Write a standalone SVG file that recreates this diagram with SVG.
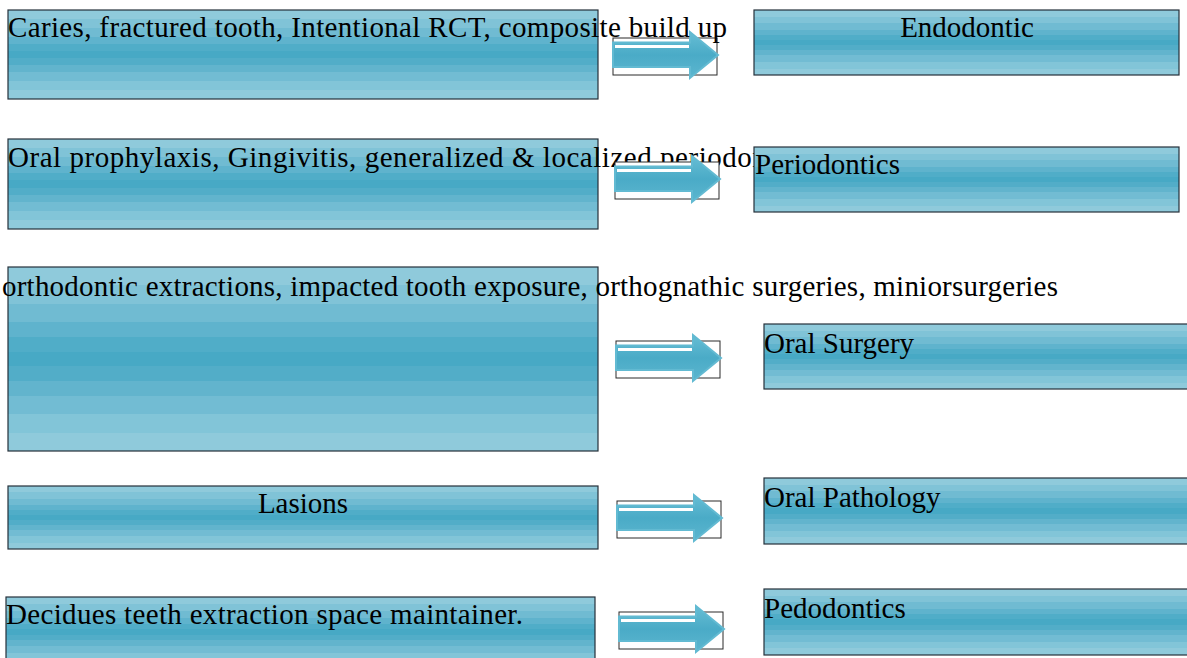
<svg xmlns="http://www.w3.org/2000/svg" width="1187" height="658" viewBox="0 0 1187 658">
  <defs>
    <!-- banded teal fill used by every box -->
    <linearGradient id="band" x1="0" y1="0" x2="0" y2="1">
      <stop offset="0" stop-color="#8fcadb"/>
      <stop offset="0.1" stop-color="#8fcadb"/>
      <stop offset="0.1" stop-color="#80c3d7"/>
      <stop offset="0.2" stop-color="#80c3d7"/>
      <stop offset="0.2" stop-color="#70bbd2"/>
      <stop offset="0.3" stop-color="#70bbd2"/>
      <stop offset="0.3" stop-color="#5fb3cd"/>
      <stop offset="0.38" stop-color="#5fb3cd"/>
      <stop offset="0.38" stop-color="#50adc8"/>
      <stop offset="0.46" stop-color="#50adc8"/>
      <stop offset="0.46" stop-color="#47a9c5"/>
      <stop offset="0.54" stop-color="#47a9c5"/>
      <stop offset="0.54" stop-color="#52adc8"/>
      <stop offset="0.62" stop-color="#52adc8"/>
      <stop offset="0.62" stop-color="#62b4cd"/>
      <stop offset="0.7" stop-color="#62b4cd"/>
      <stop offset="0.7" stop-color="#72bcd3"/>
      <stop offset="0.8" stop-color="#72bcd3"/>
      <stop offset="0.8" stop-color="#82c5d8"/>
      <stop offset="0.9" stop-color="#82c5d8"/>
      <stop offset="0.9" stop-color="#8fcadb"/>
      <stop offset="1" stop-color="#8fcadb"/>
    </linearGradient>
    <linearGradient id="arrowFill" x1="0" y1="0" x2="0" y2="1">
      <stop offset="0" stop-color="#66bdd4"/>
      <stop offset="0.5" stop-color="#4aabc7"/>
      <stop offset="1" stop-color="#5cb6cf"/>
    </linearGradient>
    <!-- block arrow inside its framed box -->
    <g id="blockArrow">
      <rect x="0" y="0" width="104" height="37" fill="#ffffff" stroke="#2a2a2a" stroke-width="1"/>
      <path d="M0,4.5 H77 V-6 L105,17 L77,40 V29 H0 Z" fill="url(#arrowFill)" stroke="#62bad2" stroke-width="2" stroke-linejoin="miter"/>
      <line x1="2" y1="8.5" x2="76" y2="8.5" stroke="#ffffff" stroke-width="3"/>
    </g>
  </defs>
  <style>
    .box { fill: url(#band); stroke: #25303a; stroke-width: 1.2; }
    .lbl { font-family: "Liberation Serif", "Times New Roman", serif; font-size: 29px; fill: #000000; }
  </style>

  <rect width="1187" height="658" fill="#ffffff"/>

  <!-- treatment boxes (left column) -->
  <g id="node-caries">
    <rect class="box" x="8" y="10" width="590" height="89"/>
  </g>
  <g id="node-prophylaxis">
    <rect class="box" x="8" y="139" width="590" height="90"/>
    <text class="lbl" x="8" y="167" textLength="805" lengthAdjust="spacing">Oral prophylaxis, Gingivitis, generalized &amp; localized periodontitis</text>
  </g>
  <g id="node-orthodontic">
    <rect class="box" x="8" y="267" width="590" height="184"/>
  </g>
  <g id="node-lasions">
    <rect class="box" x="8" y="486" width="590" height="63"/>
    <text class="lbl" x="303" y="513" text-anchor="middle">Lasions</text>
  </g>
  <g id="node-decidues">
    <rect class="box" x="6" y="597" width="589" height="70"/>
    <text class="lbl" x="6" y="624" textLength="517" lengthAdjust="spacing">Decidues teeth extraction space maintainer.</text>
  </g>

  <!-- connectors -->
  <g id="connectors">
    <use href="#blockArrow" x="613" y="38"/>
    <use href="#blockArrow" x="615" y="162"/>
    <use href="#blockArrow" x="616" y="341"/>
    <use href="#blockArrow" x="617" y="501"/>
    <use href="#blockArrow" x="619" y="612"/>
  </g>

  <!-- specialty boxes (right column) -->
  <g id="node-endodontic">
    <rect class="box" x="754" y="10" width="425" height="65"/>
    <text class="lbl" x="967" y="37" text-anchor="middle">Endodontic</text>
  </g>
  <g id="node-periodontics">
    <rect class="box" x="754" y="147" width="425" height="65"/>
    <text class="lbl" x="755" y="174">Periodontics</text>
  </g>
  <g id="node-oral-surgery">
    <rect class="box" x="764" y="324" width="440" height="65"/>
    <text class="lbl" x="764" y="353">Oral Surgery</text>
  </g>
  <g id="node-oral-pathology">
    <rect class="box" x="764" y="478" width="440" height="66"/>
    <text class="lbl" x="764" y="507">Oral Pathology</text>
  </g>
  <g id="node-pedodontics">
    <rect class="box" x="764" y="589" width="440" height="66"/>
    <text class="lbl" x="764" y="618">Pedodontics</text>
  </g>

  <!-- long labels that run past their boxes -->
  <g id="labels-overflow">
    <text class="lbl" x="8" y="37" textLength="719" lengthAdjust="spacing">Caries, fractured tooth, Intentional RCT, composite build up</text>
    <text class="lbl" x="2" y="296" textLength="1056" lengthAdjust="spacing">orthodontic extractions, impacted tooth exposure, orthognathic surgeries, miniorsurgeries</text>
  </g>
</svg>
